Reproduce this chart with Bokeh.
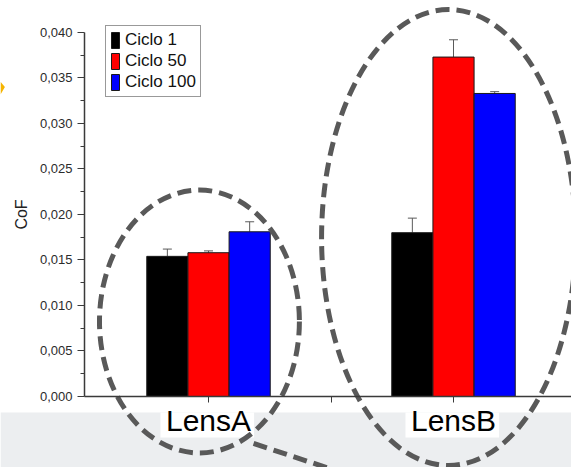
from bokeh.plotting import figure
from bokeh.models import (LinearAxis, FixedTicker, ColumnDataSource, Range1d,
                          Legend, LegendItem, Whisker, TeeHead, CustomJSTickFormatter)
from bokeh.embed import file_html
from bokeh.resources import INLINE

# --- data -------------------------------------------------------------
lenses = ["LensA", "LensB"]
series = ["Ciclo 1", "Ciclo 50", "Ciclo 100"]
series_colors = ["#000000", "#ff0000", "#0000ff"]

cof_ciclo1 = [0.0154, 0.0180]
cof_ciclo50 = [0.0158, 0.0373]
cof_ciclo100 = [0.0181, 0.0333]

err_ciclo1 = [0.0008, 0.0016]
err_ciclo50 = [0.0002, 0.0019]
err_ciclo100 = [0.0011, 0.0002]

y_ticks = [0.000, 0.005, 0.010, 0.015, 0.020, 0.025, 0.030, 0.035, 0.040]

values = [cof_ciclo1, cof_ciclo50, cof_ciclo100]
errors = [err_ciclo1, err_ciclo50, err_ciclo100]

# --- geometry ---------------------------------------------------------
W, H = 571, 467
group_pos = [1 + i for i in range(len(lenses))]
bar_w = 0.168
offsets = [-bar_w, 0.0, bar_w]

x_lo, x_hi = 0.1510, 2.4816
y_lo, y_hi = -0.0078022, 0.043516
y_axis_x = 0.4939

p = figure(width=W, height=H, output_backend="svg", toolbar_location=None,
           x_range=Range1d(x_lo, x_hi), y_range=Range1d(y_lo, y_hi),
           x_axis_type=None, y_axis_type=None, min_border=0,
           background_fill_color="white", border_fill_color="white")
p.outline_line_color = None
p.xgrid.visible = False
p.ygrid.visible = False

# light backdrop strip below the axis
band_top = -0.00176
p.quad(left=x_lo, right=x_hi, bottom=y_lo, top=band_top,
       fill_color="#eceef0", line_color=None)

# white panels behind the category names
p.quad(left=[g - 0.196 for g in group_pos], right=[g + 0.186 for g in group_pos],
       bottom=-0.0045, top=band_top, fill_color="white", line_color=None)

# --- bars + error bars -------------------------------------------------
legend_items = []
for s, vals, errs, off, col in zip(series, values, errors, offsets, series_colors):
    xs = [g + off for g in group_pos]
    src = ColumnDataSource(dict(x=xs, top=vals,
                                upper=[v + e for v, e in zip(vals, errs)]))
    r = p.vbar(x="x", top="top", width=bar_w, bottom=0, source=src,
               fill_color=col, line_color="#1a1a1a", line_width=1)
    w = Whisker(base="x", lower="top", upper="upper", source=src,
                line_color="#5a5a5a", line_width=1,
                lower_head=None,
                upper_head=TeeHead(size=9, line_color="#5a5a5a", line_width=1))
    p.add_layout(w)
    legend_items.append(LegendItem(label=s, renderers=[r]))

# --- highlighted groups ------------------------------------------------
p.ellipse(x=[0.963, 1.98], y=[0.00824, 0.01747], width=[0.816, 1.037],
          height=[0.0289, 0.0501], fill_alpha=0, line_color="#595959",
          line_width=5, line_dash="14 7")
p.segment(x0=[1.184], y0=[-0.00516], x1=[1.52], y1=[-0.00815],
          line_color="#595959", line_width=5, line_dash="14 7")

# small marker at the left border
p.patch(x=[x_lo, x_lo + 0.018, x_lo], y=[0.0346, 0.0340, 0.0332],
        fill_color="#f5b400", line_color=None)

# --- axes -------------------------------------------------------------
minor = [t + 0.0025 for t in y_ticks[:-1]]
yaxis = LinearAxis(fixed_location=y_axis_x, bounds=(y_ticks[0], y_ticks[-1]),
                   ticker=FixedTicker(ticks=y_ticks, minor_ticks=minor),
                   formatter=CustomJSTickFormatter(
                       code="return tick.toFixed(3).replace('.', ',');"),
                   axis_label="CoF")
yaxis.axis_line_color = "#3a3a3a"
yaxis.axis_line_width = 1.5
yaxis.major_tick_line_color = "#3a3a3a"
yaxis.minor_tick_line_color = "#3a3a3a"
yaxis.major_tick_out = 7
yaxis.major_tick_in = 0
yaxis.minor_tick_out = 4
yaxis.minor_tick_in = 0
yaxis.major_label_text_font = "Liberation Sans"
yaxis.major_label_text_font_size = "13px"
yaxis.major_label_text_color = "#2b2b2b"
yaxis.major_label_standoff = 5
yaxis.axis_label_text_font = "Liberation Sans"
yaxis.axis_label_text_font_size = "16px"
yaxis.axis_label_text_font_style = "normal"
yaxis.axis_label_text_color = "#222222"
yaxis.axis_label_standoff = 7
p.add_layout(yaxis, "left")

xaxis = LinearAxis(fixed_location=0.0, bounds=(y_axis_x, 2.5),
                   ticker=FixedTicker(ticks=[1, 1.5, 2], minor_ticks=[]),
                   formatter=CustomJSTickFormatter(
                       args=dict(names=lenses),
                       code="""
                           const k = Math.round(tick);
                           return Math.abs(tick - k) < 1e-6 ? names[k - 1] : "";
                       """))
xaxis.axis_line_color = "#3a3a3a"
xaxis.axis_line_width = 1.5
xaxis.major_tick_line_color = "#3a3a3a"
xaxis.major_tick_out = 6
xaxis.major_tick_in = 0
xaxis.minor_tick_out = 0
xaxis.minor_tick_in = 0
xaxis.major_label_text_font = "Liberation Sans"
xaxis.major_label_text_font_size = "30px"
xaxis.major_label_text_color = "#000000"
xaxis.major_label_standoff = 2
p.add_layout(xaxis, "below")

# --- legend -----------------------------------------------------------
legend = Legend(items=legend_items, location=(105, 370), orientation="vertical",
                glyph_width=10, glyph_height=20, label_height=20,
                label_standoff=5, spacing=1, padding=4, margin=0,
                label_text_font="Liberation Sans", label_text_font_size="17px",
                label_text_color="#111111",
                border_line_color="#333333", border_line_width=1,
                background_fill_color="white", background_fill_alpha=1)
p.add_layout(legend)

open("out.html", "w").write(file_html(p, INLINE))
